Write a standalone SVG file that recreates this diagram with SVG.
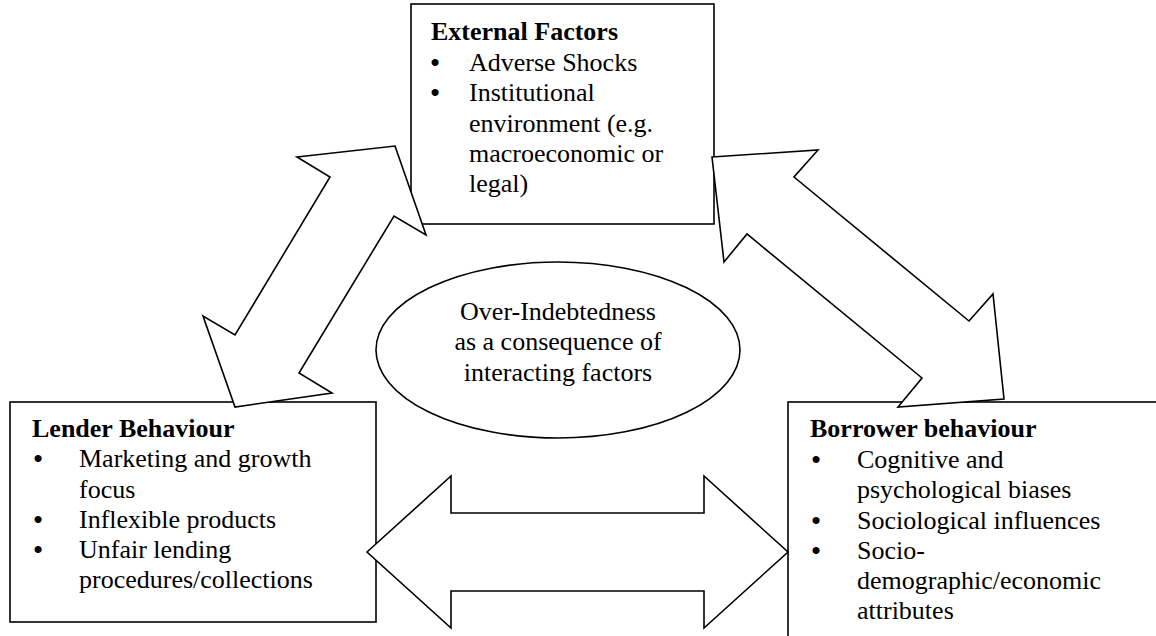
<svg xmlns="http://www.w3.org/2000/svg" width="1156" height="636" viewBox="0 0 1156 636">
<style>
.box{fill:#fff;stroke:#000;stroke-width:1.6}
.arr{fill:#fff;stroke:#000;stroke-width:1.6;stroke-linejoin:miter}
text{font-family:'Liberation Serif','Times New Roman',serif;font-size:26px;font-weight:400;fill:#000}
.h{font-weight:700}
.c{text-anchor:middle}
.b{font-weight:700}
</style>
<rect width="1156" height="636" fill="#fff"/>
<g id="external">
<rect class="box" x="411" y="4" width="303" height="220"/>
<text class="h" x="431" y="40">External Factors</text>
<text class="b" x="430.5" y="71">•</text><text x="469" y="71">Adverse Shocks</text>
<text class="b" x="430.5" y="101">•</text><text x="469" y="101">Institutional</text>
<text x="469" y="132">environment (e.g.</text>
<text x="469" y="162">macroeconomic or</text>
<text x="469" y="192">legal)</text>
</g>
<g id="lender">
<rect class="box" x="10" y="402" width="366" height="220"/>
<text class="h" x="32" y="437">Lender Behaviour</text>
<text class="b" x="33.5" y="467">•</text><text x="79" y="467">Marketing and growth</text>
<text x="79" y="498">focus</text>
<text class="b" x="33.5" y="528">•</text><text x="79" y="528">Inflexible products</text>
<text class="b" x="33.5" y="558">•</text><text x="79" y="558">Unfair lending</text>
<text x="79" y="588">procedures/collections</text>
</g>
<g id="borrower">
<rect class="box" x="788" y="402" width="420" height="300"/>
<text class="h" x="810" y="437">Borrower behaviour</text>
<text class="b" x="811.5" y="468">•</text><text x="857" y="468">Cognitive and</text>
<text x="857" y="498">psychological biases</text>
<text class="b" x="811.5" y="529">•</text><text x="857" y="529">Sociological influences</text>
<text class="b" x="811.5" y="559">•</text><text x="857" y="559">Socio-</text>
<text x="857" y="589">demographic/economic</text>
<text x="857" y="619">attributes</text>
</g>
<g id="center">
<ellipse class="box" cx="558" cy="350" rx="182" ry="88"/>
<text class="c" x="558" y="320">Over-Indebtedness</text>
<text class="c" x="558" y="350">as a consequence of</text>
<text class="c" x="558" y="381">interacting factors</text>
</g>
<g id="connectors">
<polygon class="arr" points="395,146 426,235 394,216 299,373 332,393 235,407 203,316 235,335 330,177 297,157"/>
<polygon class="arr" points="712,157 818,150 794,177 969,321 993,294 1004,399 898,407 922,378 747,234 724,262"/>
<polygon class="arr" points="367,552 451,476 451,513 704,513 704,476 788,552 704,628 704,591 451,591 451,628"/>
</g>
</svg>
